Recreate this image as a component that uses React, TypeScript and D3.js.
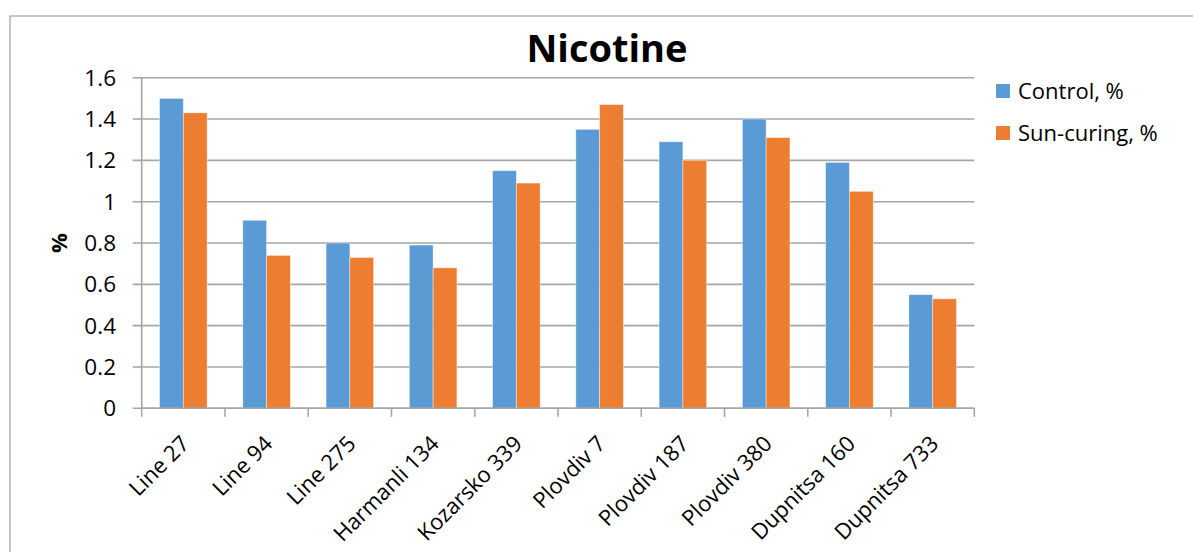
import React from "react";
import * as d3 from "d3";

const categories = [
  "Line 27",
  "Line 94",
  "Line 275",
  "Harmanli 134",
  "Kozarsko 339",
  "Plovdiv 7",
  "Plovdiv 187",
  "Plovdiv 380",
  "Dupnitsa 160",
  "Dupnitsa 733",
];
const seriesNames = ["Control, %", "Sun-curing, %"];
const controlValues = [1.5, 0.91, 0.8, 0.79, 1.15, 1.35, 1.29, 1.4, 1.19, 0.55];
const sunCuringValues = [1.43, 0.74, 0.73, 0.68, 1.09, 1.47, 1.2, 1.31, 1.05, 0.53];
const yTicks = [0, 0.2, 0.4, 0.6, 0.8, 1, 1.2, 1.4, 1.6];
const colors = ["#5b9bd5", "#ed7d31"];

const W = 1193;
const H = 552;
const FONT = "'Open Sans', 'Noto Sans', sans-serif";

export default function App() {
  const left = 141.7;
  const right = 974.3;
  const top = 77.7;
  const bottom = 408.3;

  const x0 = d3.scaleBand<string>().domain(categories).range([left, right]).paddingInner(0).paddingOuter(0);
  const x1 = d3
    .scaleBand<string>()
    .domain(seriesNames)
    .range([0, x0.bandwidth()])
    .paddingInner(0)
    .paddingOuter(0.75);
  const y = d3.scaleLinear().domain([0, 1.6]).range([bottom, top]);

  const seriesValues = [controlValues, sunCuringValues];
  const gridColor = "#a6a6a6";
  const fmt = (v: number) => String(+v.toFixed(1));

  return (
    <div style={{ position: "absolute", left: 0, top: 0 }}>
      <svg width={W} height={H} style={{ display: "block", background: "#fff" }}>
        {/* chart frame */}
        <rect x={10} y={16} width={W} height={H} fill="#fff" stroke="#a8a8a8" strokeWidth={1.3} />

        {/* title */}
        <text x={607} y={62} textAnchor="middle" fontFamily={FONT} fontWeight={700} fontSize={38} fill="#000">
          Nicotine
        </text>

        {/* horizontal gridlines + y ticks */}
        {yTicks.map((t) => (
          <g key={t}>
            <line x1={left - 9} x2={right} y1={y(t)} y2={y(t)} stroke={gridColor} strokeWidth={1.6} />
            <text
              x={116}
              y={y(t)}
              dy="0.36em"
              textAnchor="end"
              fontFamily={FONT}
              fontSize={22.5}
              fill="#000"
            >
              {fmt(t)}
            </text>
          </g>
        ))}

        {/* y axis line */}
        <line x1={left} x2={left} y1={top} y2={bottom} stroke={gridColor} strokeWidth={1.6} />

        {/* bars */}
        {seriesNames.map((s, si) =>
          categories.map((c, ci) => {
            const v = seriesValues[si][ci];
            const bx = (x0(c) as number) + (x1(s) as number);
            return (
              <rect
                key={s + c}
                x={bx}
                y={y(v)}
                width={x1.bandwidth()}
                height={y(0) - y(v)}
                fill={colors[si]}
                stroke="#ffffff"
                strokeOpacity={0.5}
                strokeWidth={0.8}
              />
            );
          })
        )}

        {/* x axis + category ticks */}
        <line x1={left} x2={right} y1={bottom} y2={bottom} stroke={gridColor} strokeWidth={1.6} />
        {d3.range(categories.length + 1).map((i) => {
          const tx = left + i * x0.step();
          return <line key={i} x1={tx} x2={tx} y1={bottom} y2={bottom + 8.5} stroke={gridColor} strokeWidth={1.6} />;
        })}

        {/* category labels */}
        {categories.map((c) => {
          const cx = (x0(c) as number) + x0.bandwidth() / 2;
          return (
            <text
              key={c}
              transform={`translate(${cx - 4},${434}) rotate(-45)`}
              textAnchor="end"
              dy="0.72em"
              fontFamily={FONT}
              fontSize={22}
              fill="#000"
            >
              {c}
            </text>
          );
        })}

        {/* y axis title */}
        <text
          transform={`translate(59,243) rotate(-90)`}
          textAnchor="middle"
          dy="0.35em"
          fontFamily={FONT}
          fontWeight={700}
          fontSize={22}
          fill="#000"
        >
          %
        </text>

        {/* legend */}
        {seriesNames.map((s, i) => (
          <g key={s} transform={`translate(996,${84 + i * 42})`}>
            <rect x={0} y={0} width={14} height={14} fill={colors[i]} />
            <text x={22} y={14.5} fontFamily={FONT} fontSize={22} fill="#000">
              {s}
            </text>
          </g>
        ))}
      </svg>
    </div>
  );
}
